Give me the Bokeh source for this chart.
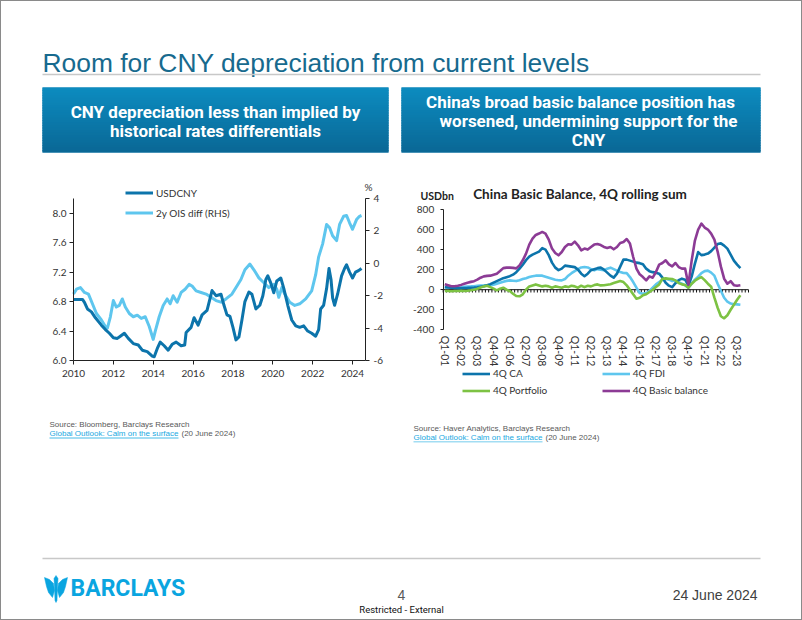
import math
from bokeh.plotting import figure
from bokeh.models import (Range1d, LinearAxis, FixedTicker, NumeralTickFormatter,
                          Legend, LegendItem)
from bokeh.layouts import column
from bokeh.core.properties import value
from bokeh.embed import file_html
from bokeh.resources import INLINE

# ---------------- data: left chart ----------------
usdcny_t = [2010.00, 2010.45, 2010.55, 2010.70, 2010.90, 2011.10, 2011.40, 2011.60, 2011.80, 2012.00,
            2012.20, 2012.35, 2012.55, 2012.75, 2013.00, 2013.25, 2013.45, 2013.70, 2013.95, 2014.05,
            2014.20, 2014.35, 2014.55, 2014.75, 2014.95, 2015.15, 2015.40, 2015.58, 2015.65, 2015.90,
            2016.05, 2016.25, 2016.45, 2016.70, 2016.95, 2017.15, 2017.40, 2017.55, 2017.70, 2017.85,
            2018.00, 2018.15, 2018.30, 2018.45, 2018.60, 2018.80, 2018.95, 2019.15, 2019.35, 2019.50,
            2019.65, 2019.75, 2019.90, 2020.05, 2020.20, 2020.40, 2020.55, 2020.75, 2020.95, 2021.15,
            2021.35, 2021.55, 2021.75, 2021.95, 2022.15, 2022.30, 2022.40, 2022.55, 2022.70, 2022.82,
            2022.92, 2023.00, 2023.10, 2023.25, 2023.45, 2023.60, 2023.70, 2023.85, 2024.00, 2024.15,
            2024.30, 2024.45]
usdcny_v = [6.83, 6.83, 6.79, 6.70, 6.66, 6.58, 6.48, 6.42, 6.37, 6.31,
            6.30, 6.33, 6.37, 6.30, 6.23, 6.21, 6.14, 6.12, 6.06, 6.05,
            6.16, 6.25, 6.20, 6.14, 6.22, 6.25, 6.20, 6.21, 6.38, 6.45,
            6.58, 6.48, 6.62, 6.68, 6.95, 6.88, 6.90, 6.75, 6.62, 6.60,
            6.45, 6.28, 6.32, 6.55, 6.80, 6.93, 6.90, 6.70, 6.75, 6.88,
            7.10, 7.15, 7.05, 6.92, 7.08, 7.12, 6.98, 6.75, 6.55, 6.47,
            6.45, 6.47, 6.40, 6.37, 6.33, 6.42, 6.70, 6.75, 6.98, 7.25,
            7.10, 6.85, 6.75, 6.90, 7.15, 7.25, 7.30, 7.20, 7.12, 7.20,
            7.22, 7.25]
ois_t = [2010.00, 2010.15, 2010.35, 2010.55, 2010.75, 2010.95, 2011.15, 2011.40, 2011.60, 2011.70,
         2011.85, 2012.00, 2012.15, 2012.30, 2012.45, 2012.60, 2012.80, 2013.00, 2013.20, 2013.40,
         2013.60, 2013.80, 2014.00, 2014.10, 2014.30, 2014.50, 2014.70, 2014.85, 2015.00, 2015.20,
         2015.40, 2015.60, 2015.80, 2015.95, 2016.15, 2016.40, 2016.65, 2016.90, 2017.15, 2017.40,
         2017.65, 2017.95, 2018.20, 2018.40, 2018.60, 2018.85, 2019.05, 2019.30, 2019.55, 2019.80,
         2020.05, 2020.20, 2020.30, 2020.45, 2020.60, 2020.85, 2021.10, 2021.35, 2021.65, 2021.95,
         2022.15, 2022.30, 2022.50, 2022.70, 2022.85, 2023.00, 2023.20, 2023.35, 2023.55, 2023.70,
         2023.85, 2024.00, 2024.20, 2024.35, 2024.45]
ois_v = [-1.9, -1.6, -1.5, -1.8, -1.9, -2.5, -3.1, -3.5, -3.9, -4.0,
         -3.3, -2.3, -2.7, -2.6, -2.2, -2.7, -3.1, -3.3, -3.2, -3.4,
         -3.3, -3.9, -4.7, -4.2, -3.3, -2.6, -2.2, -2.5, -2.0, -2.4,
         -1.8, -1.6, -1.3, -1.4, -1.7, -1.8, -1.9, -2.1, -2.3, -2.4,
         -2.2, -1.9, -1.4, -1.0, -0.4, -0.05, -0.4, -0.9, -1.2, -1.5,
         -1.3, -1.6, -2.1, -1.5, -1.9, -2.4, -2.6, -2.5, -2.2, -1.7,
         -0.7, 0.4, 1.2, 2.4, 2.2, 1.7, 1.4, 2.4, 2.9, 2.95,
         2.5, 2.1, 2.7, 2.9, 2.95]
left_x_bounds = (2010, 2024.65)
left_year_ticks = [2010, 2012, 2014, 2016, 2018, 2020, 2022, 2024]
left_y_bounds = (6.0, 8.2)
left_y_ticks = [6.0, 6.4, 6.8, 7.2, 7.6, 8.0]
rhs_bounds = (-6, 4)
rhs_ticks = [-6, -4, -2, 0, 2, 4]

# ---------------- data: right chart ----------------
quarters = ["Q%d-%02d" % (q, y) for y in range(1, 25) for q in range(1, 5)]
ca = [25, 22, 20, 18, 15, 15, 17, 18, 20, 22,
      25, 30, 35, 45, 55, 70, 85, 100, 115, 125,
      135, 150, 175, 210, 250, 295, 330, 350, 365, 380,
      415, 400, 345, 270, 220, 195, 210, 240, 235, 230,
      225, 200, 160, 135, 160, 195, 205, 215, 220, 200,
      170, 140, 120, 160, 230, 300, 300, 290, 280, 270,
      265, 255, 210, 185, 175, 170, 160, 120, 70, 40,
      25, 65, 95, 110, 100, 40, 130, 260, 375, 345,
      350, 360, 385, 420, 455, 462, 440, 410, 350, 290,
      250, 215]
fdi = [25, 22, 20, 20, 22, 25, 30, 32, 33, 35,
       40, 42, 43, 45, 46, 50, 60, 70, 80, 88,
       93, 90, 86, 95, 106, 115, 126, 135, 140, 142,
       140, 130, 120, 110, 100, 95, 93, 106, 140, 165,
       186, 205, 222, 226, 222, 205, 193, 205, 200, 193,
       210, 220, 205, 190, 176, 166, 165, 126, 76, 20,
       -33, -40, -33, -13, 20, 53, 76, 100, 110, 100,
       86, 93, 76, 60, 43, 20, 60, 100, 130, 165,
       185, 190, 170, 140, 60, -10, -80, -120, -138, -145,
       -146, -150]
portfolio = [-13, -13, -15, -13, -13, -12, -13, -10, -6, 0,
             10, 22, 33, 40, 26, 10, -6, 10, 20, 0,
             -13, -40, -63, -66, -46, 0, 33, 43, 53, 43,
             33, 40, 33, 20, 33, 26, 20, 33, 26, 40,
             33, 20, 40, 26, 40, 33, 46, 53, 43, 45,
             50, 55, 66, 76, 86, 76, 43, 0, -46, -90,
             -80, -56, -46, -23, 0, 26, 53, 110, 113, 110,
             106, 93, 66, 53, 46, 20, 60, 90, 110, 126,
             95, 60, 30, -80, -180, -265, -285, -255, -200, -150,
             -100, -56]
basic = [55, 45, 35, 35, 40, 48, 60, 70, 78, 85,
         100, 120, 133, 138, 140, 150, 160, 186, 215, 220,
         220, 218, 213, 243, 293, 360, 450, 510, 546, 560,
         576, 560, 500, 410, 366, 343, 376, 426, 453, 450,
         480, 443, 393, 410, 400, 426, 450, 455, 445, 426,
         416, 426, 403, 426, 466, 476, 505, 460, 326, 210,
         153, 126, 93, 133, 120, 176, 250, 266, 293, 253,
         233, 266, 226, 210, 210, 50, 290, 490, 600, 660,
         620, 600, 560, 500, 380, 230, 110, 60, 85, 45,
         40, 45]
bb_x_bounds = (-0.5, 93.5)
bb_y_bounds = (-400, 800)
bb_y_ticks = [-400, -200, 0, 200, 400, 600, 800]
bb_label_every = 5

# ---------------- styles ----------------
CHART_FONT = "Lato"
SLIDE_FONT = "Liberation Sans"
HEAD_FONT = "Roboto"
DARK_BLUE = "#0c74ab"
LIGHT_BLUE = "#5ec6ee"
GREEN = "#7dc243"
PURPLE = "#8c3b95"
TXT = "#333333"
AXC = "#222222"
W = 802
LB, RB = 38, 40          # common left / right borders of every figure (frames align)


def transparent(f):
    f.grid.visible = False
    f.outline_line_color = None
    f.background_fill_alpha = 0
    f.border_fill_alpha = 0


def canvas(y0, y1):
    f = figure(width=W, height=y1 - y0, x_range=Range1d(LB, W - RB), y_range=Range1d(y1, y0),
               output_backend="svg", toolbar_location=None, title=None,
               min_border_left=LB, min_border_right=RB, min_border_top=0, min_border_bottom=0,
               x_axis_location=None, y_axis_location=None)
    transparent(f)
    return f


def style_axis(ax, size="10px"):
    ax.major_label_text_font = CHART_FONT
    ax.major_label_text_font_size = size
    ax.major_label_text_color = TXT
    ax.axis_line_color = AXC
    ax.major_tick_line_color = AXC
    ax.minor_tick_line_color = None
    ax.major_tick_in = 0


# ---------------- top slide area ----------------
top = canvas(0, 160)
top.text(x=[42], y=[62], text=["Room for CNY depreciation from current levels"],
         text_font=value(SLIDE_FONT), text_font_size="26.4px", text_color="#176a8e",
         text_baseline="alphabetic", text_align="left")
top.segment(x0=[42], y0=[74], x1=[760], y1=[74], line_color="#c8c8c8", line_width=1.5)

nb = 26
c_top = (12, 139, 191)
c_bot = (10, 104, 150)
band_cols = []
for i in range(nb):
    t = i / (nb - 1)
    band_cols.append("#%02x%02x%02x" % tuple(int(round(a + (b - a) * t)) for a, b in zip(c_top, c_bot)))
BOX_T, BOX_B = 87, 152
bh = (BOX_B - BOX_T) / nb
for (l, r_) in [(42, 388), (401, 760)]:
    top.quad(left=[l], right=[r_], top=[BOX_T], bottom=[BOX_B], fill_color="#0b7aad", line_color=None)
    top.quad(left=[l] * nb, right=[r_] * nb,
             top=[BOX_T + i * bh for i in range(nb)],
             bottom=[min(BOX_B, BOX_T + (i + 1) * bh + 1) for i in range(nb)],
             fill_color=band_cols, line_color=None)

top.text(x=[215, 215], y=[111, 130],
         text=["CNY depreciation less than implied by", "historical rates differentials"],
         text_font=value(HEAD_FONT), text_font_style="bold", text_font_size="17px",
         text_color="white", text_align="center", text_baseline="middle")
top.text(x=[580, 588, 588], y=[101, 120, 139],
         text=["China's broad basic balance position has", "worsened, undermining support for the", "CNY"],
         text_font=value(HEAD_FONT), text_font_style="bold", text_font_size="17px",
         text_color="white", text_align="center", text_baseline="middle")

# ---------------- middle: both charts in one figure ----------------
MID_TOP, MID_BOT = 160, 502
TB, BB = 0, 60
fx0, fx1 = LB, W - RB
fy0, fy1 = MID_TOP + TB, MID_BOT - BB


def span_range(v0, p0, v1, p1, q_start, q_end):
    k = (v1 - v0) / (p1 - p0)
    return Range1d(v0 + (q_start - p0) * k, v0 + (q_end - p0) * k)


# pixel placement of the two plot areas on the page
LX0, LX1, LY0, LY1 = 73, 365, 198, 360        # left chart
RX0, RX1, RY0, RY1 = 442.7, 748, 209, 329.3   # right chart

mid = figure(width=W, height=MID_BOT - MID_TOP, output_backend="svg", toolbar_location=None,
             title=None, x_range=Range1d(fx0, fx1), y_range=Range1d(fy1, fy0),
             x_axis_location=None, y_axis_location=None,
             min_border_left=LB, min_border_right=RB, min_border_top=TB, min_border_bottom=BB)
transparent(mid)
mid.extra_x_ranges = {
    "lx": span_range(left_x_bounds[0], LX0, left_x_bounds[1], LX1, fx0, fx1),
    "bx": span_range(bb_x_bounds[0], RX0, bb_x_bounds[1], RX1, fx0, fx1),
}
mid.extra_y_ranges = {
    "ly": span_range(left_y_bounds[0], LY1, left_y_bounds[1], LY0, fy1, fy0),
    "ry": span_range(rhs_bounds[0], LY1, rhs_bounds[1], LY0, fy1, fy0),
    "by": span_range(bb_y_bounds[0], RY1, bb_y_bounds[1], RY0, fy1, fy0),
}


def y_label_axis(range_name, loc, bounds, ticks, fmt):
    # tick labels only (right-aligned at loc), placed in the left panel
    ax = LinearAxis(y_range_name=range_name, fixed_location=loc, bounds=bounds,
                    ticker=FixedTicker(ticks=ticks), formatter=NumeralTickFormatter(format=fmt))
    style_axis(ax)
    ax.axis_line_color = None
    ax.major_tick_line_color = None
    ax.major_tick_out = 0
    ax.major_label_standoff = 0
    mid.add_layout(ax, "left")


def y_rule_axis(range_name, loc, bounds, ticks, tick_len):
    # axis line and ticks pointing left, no labels (kept in the right panel)
    ax = LinearAxis(y_range_name=range_name, fixed_location=loc, bounds=bounds,
                    ticker=FixedTicker(ticks=ticks))
    ax.major_label_overrides = {t: "" for t in ticks}
    ax.major_label_text_alpha = 0
    ax.axis_line_color = AXC
    ax.major_tick_line_color = AXC
    ax.minor_tick_line_color = None
    ax.major_tick_in = tick_len
    ax.major_tick_out = 0
    ax.major_label_standoff = 0
    mid.add_layout(ax, "right")


# left chart lines
r_ois = mid.line(ois_t, ois_v, x_range_name="lx", y_range_name="ry",
                 line_color=LIGHT_BLUE, line_width=3, line_join="round")
r_usd = mid.line(usdcny_t, usdcny_v, x_range_name="lx", y_range_name="ly",
                 line_color=DARK_BLUE, line_width=3, line_join="round")

ax_lx = LinearAxis(x_range_name="lx", fixed_location=LY1, bounds=left_x_bounds,
                   ticker=FixedTicker(ticks=left_year_ticks), formatter=NumeralTickFormatter(format="0"))
style_axis(ax_lx)
ax_lx.major_tick_out = 4
ax_lx.major_label_standoff = 5
mid.add_layout(ax_lx, "below")

y_label_axis("ly", LX0 - 7, left_y_bounds, left_y_ticks, "0.0")
y_rule_axis("ly", LX0, left_y_bounds, left_y_ticks, 4)

ax_ry = LinearAxis(y_range_name="ry", fixed_location=LX1, bounds=rhs_bounds,
                   ticker=FixedTicker(ticks=rhs_ticks), formatter=NumeralTickFormatter(format="0"))
style_axis(ax_ry)
ax_ry.major_tick_out = 4
ax_ry.major_label_standoff = 4
mid.add_layout(ax_ry, "right")

# right chart
idx = list(range(len(ca)))
mid.segment(x0=[bb_x_bounds[0]], y0=[0], x1=[bb_x_bounds[1]], y1=[0],
            x_range_name="bx", y_range_name="by", line_color="#111111", line_width=1)
edges = [i - 0.5 for i in range(int(bb_x_bounds[1] + 1.5))]
mid.segment(x0=edges, y0=[0] * len(edges), x1=edges, y1=[-28] * len(edges),
            x_range_name="bx", y_range_name="by", line_color="#111111", line_width=1)

kw = dict(x_range_name="bx", y_range_name="by", line_width=2.6, line_join="round")
r_fdi = mid.line(idx, fdi, line_color=LIGHT_BLUE, **kw)
r_ca = mid.line(idx, ca, line_color=DARK_BLUE, **kw)
r_pf = mid.line(idx, portfolio, line_color=GREEN, **kw)
r_bb = mid.line(idx, basic, line_color=PURPLE, **kw)

xt = list(range(0, len(ca), bb_label_every))
ax_bx = LinearAxis(x_range_name="bx", fixed_location=RY1, bounds=bb_x_bounds,
                   ticker=FixedTicker(ticks=xt))
ax_bx.major_label_overrides = {i: quarters[i] for i in xt}
style_axis(ax_bx, "10.5px")
ax_bx.major_label_orientation = "vertical"
ax_bx.axis_line_color = None
ax_bx.major_tick_line_color = None
ax_bx.major_tick_out = 0
ax_bx.major_label_standoff = 6
mid.add_layout(ax_bx, "below")

y_label_axis("by", RX0 - 9, bb_y_bounds, bb_y_ticks, "0")
y_rule_axis("by", RX0, bb_y_bounds, bb_y_ticks, 3)

# legends (positions relative to the plot frame's bottom-left)
LEG_H = 13


def add_leg(label, r, x_left, y_center):
    lg = Legend(items=[LegendItem(label=label, renderers=[r])],
                location=(x_left - fx0, fy1 - (y_center + LEG_H / 2)),
                glyph_width=28, glyph_height=LEG_H, label_height=LEG_H, label_standoff=3,
                padding=0, margin=0, spacing=0, border_line_color=None,
                background_fill_alpha=0, label_text_font=CHART_FONT,
                label_text_font_size="10px", label_text_color=TXT)
    mid.add_layout(lg)


add_leg("USDCNY", r_usd, 125, 192.7)
add_leg("2y OIS diff (RHS)", r_ois, 125, 212.7)
add_leg("4Q CA", r_ca, 462, 373.3)
add_leg("4Q FDI", r_fdi, 601.7, 373.3)
add_leg("4Q Portfolio", r_pf, 462, 390)
add_leg("4Q Basic balance", r_bb, 601.7, 390)

# chart texts (page pixel positions)
mid.text(x=[368], y=[186], text=["%"], text_font=value(CHART_FONT), text_font_size="10px",
         text_color=TXT, text_align="center", text_baseline="middle")
mid.text(x=[579.5], y=[193.3], text=["China Basic Balance, 4Q rolling sum"],
         text_font=value(CHART_FONT), text_font_style="bold", text_font_size="13.5px",
         text_color="#222222", text_align="center", text_baseline="middle")
mid.text(x=[420], y=[195], text=["USDbn"], text_font=value(CHART_FONT), text_font_style="bold",
         text_font_size="10.5px", text_color="#222222", text_align="left", text_baseline="middle")

SRC = "#595959"
LINK = "#18a9e1"
sx_l, sx_r = 49, 413
mid.text(x=[sx_l, sx_r], y=[424, 428],
         text=["Source: Bloomberg, Barclays Research", "Source: Haver Analytics, Barclays Research"],
         text_font=value(SLIDE_FONT), text_font_size="8px", text_color=SRC,
         text_baseline="middle", text_align="left")
mid.text(x=[sx_l, sx_r], y=[433, 437],
         text=["Global Outlook: Calm on the surface", "Global Outlook: Calm on the surface"],
         text_font=value(SLIDE_FONT), text_font_size="8px", text_color=LINK,
         text_baseline="middle", text_align="left")
mid.segment(x0=[sx_l, sx_r], y0=[437.5, 441.5], x1=[sx_l + 129, sx_r + 129], y1=[437.5, 441.5],
            line_color=LINK, line_width=0.8)
mid.text(x=[sx_l + 132, sx_r + 132], y=[433, 437], text=["(20 June 2024)", "(20 June 2024)"],
         text_font=value(SLIDE_FONT), text_font_size="8px", text_color=SRC,
         text_baseline="middle", text_align="left")

# ---------------- bottom slide area ----------------
bot = canvas(MID_BOT, 620)
bot.segment(x0=[42], y0=[558], x1=[760], y1=[558], line_color="#c8c8c8", line_width=1.5)

LOGO = "#0aa5e0"
bot.patches(xs=[[44, 49, 53, 54, 52, 48, 46], [67, 62, 58, 57, 59, 63, 65],
                [53.5, 55.5, 57.5, 57, 56.5, 55.5, 54.5, 54]],
            ys=[[577, 579, 583, 590, 597, 592, 586], [577, 579, 583, 590, 597, 592, 586],
                [578, 575, 578, 586, 600, 602, 600, 586]],
            fill_color=LOGO, line_color=LOGO, line_width=0.5)
bot.text(x=[70], y=[588], text=["BARCLAYS"], text_font=value(HEAD_FONT),
         text_font_style="bold", text_font_size="23px", text_color=LOGO,
         text_baseline="middle", text_align="left")
bot.text(x=[401], y=[594], text=["4"], text_font=value(SLIDE_FONT), text_font_size="14px",
         text_color="#595959", text_baseline="middle", text_align="center")
bot.text(x=[401], y=[609], text=["Restricted - External"], text_font=value(HEAD_FONT),
         text_font_size="9.5px", text_color="#111111", text_baseline="middle", text_align="center")
bot.text(x=[757], y=[594], text=["24 June 2024"], text_font=value(SLIDE_FONT),
         text_font_size="14px", text_color="#404040", text_baseline="middle", text_align="right")

layout = column(top, mid, bot, spacing=0,
                styles={"background-color": "white",
                        "box-shadow": "inset 0 0 0 1px #8a8a8a"})

open("out.html", "w").write(file_html(layout, INLINE))
